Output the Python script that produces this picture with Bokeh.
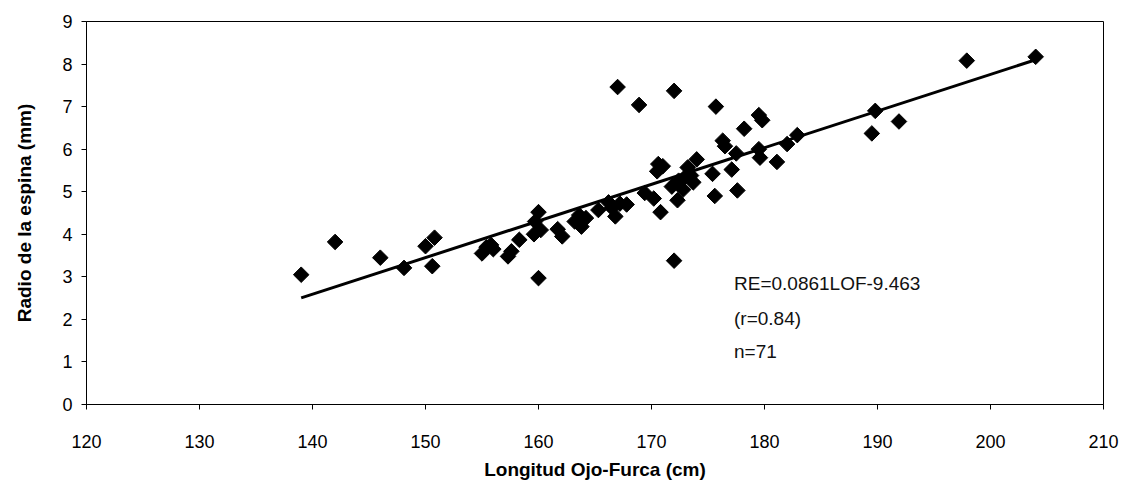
import math
from bokeh.plotting import figure
from bokeh.models import FixedTicker, Range1d, ColumnDataSource
from bokeh.core.properties import value
from bokeh.embed import file_html
from bokeh.resources import INLINE

# Longitud Ojo-Furca (cm)
lof = [139.0, 142.0, 146.0, 148.1, 150.0, 150.8, 150.6, 155.0, 155.4, 155.8,
       156.0, 157.3, 157.6, 158.3, 159.6, 159.7, 160.0, 160.2, 160.0, 161.7,
       162.1, 163.2, 163.6, 163.8, 164.2, 165.3, 166.2, 166.8, 167.2, 167.8,
       167.0, 168.9, 169.4, 170.2, 170.6, 170.5, 170.8, 172.0, 172.0, 172.3,
       171.8, 172.4, 172.8, 173.2, 173.5, 173.7, 174.0, 175.4, 175.7, 175.6,
       176.3, 176.5, 177.1, 177.5, 177.6, 178.2, 179.5, 179.8, 179.5, 179.6,
       181.1, 182.0, 182.9, 189.5, 189.8, 191.9, 197.9, 204.0, 166.5, 171.0,
       173.0]
# Radio de la espina (mm)
re_ = [3.05, 3.82, 3.45, 3.21, 3.72, 3.92, 3.25, 3.55, 3.70, 3.75,
       3.65, 3.48, 3.60, 3.87, 4.00, 4.30, 4.52, 4.10, 2.97, 4.12,
       3.95, 4.30, 4.45, 4.18, 4.38, 4.57, 4.75, 4.42, 4.72, 4.70,
       7.46, 7.04, 4.97, 4.84, 5.65, 5.48, 4.52, 7.37, 3.38, 4.80,
       5.12, 5.26, 5.05, 5.57, 5.38, 5.22, 5.76, 5.42, 7.00, 4.90,
       6.20, 6.07, 5.52, 5.90, 5.03, 6.48, 6.80, 6.68, 6.00, 5.80,
       5.70, 6.12, 6.33, 6.37, 6.90, 6.65, 8.08, 8.17, 4.62, 5.60,
       5.35]

slope = 0.0861
intercept = -9.463
fit_x = [139.0, 204.0]
fit_y = [slope * x + intercept for x in fit_x]

x_ticks = [120, 130, 140, 150, 160, 170, 180, 190, 200, 210]
y_ticks = [0, 1, 2, 3, 4, 5, 6, 7, 8, 9]

ann_lines = ["RE=0.0861LOF-9.463", "(r=0.84)", "n=71"]
ann_x = [177.3, 177.3, 177.3]
ann_y = [2.84, 2.02, 1.24]

FONT = "Liberation Sans"

p = figure(width=1127, height=501, output_backend="svg", toolbar_location=None,
           x_range=Range1d(120, 210), y_range=Range1d(0, 9),
           min_border_left=86, min_border_right=24, min_border_top=21,
           min_border_bottom=97)
p.background_fill_color = "white"
p.border_fill_color = "white"
p.outline_line_color = "black"
p.outline_line_width = 1
p.grid.visible = False

p.line(fit_x, fit_y, line_color="black", line_width=3)
src = ColumnDataSource(dict(x=lof, y=re_))
p.scatter("x", "y", source=src, marker="square", angle=math.pi / 4, size=11,
          fill_color="black", line_color="black")

p.text(x=ann_x, y=ann_y, text=ann_lines, text_font=value(FONT),
       text_font_size="19px", text_baseline="middle", text_align="left",
       text_color="#111111")

for ax in (p.xaxis[0], p.yaxis[0]):
    ax.axis_line_color = "black"
    ax.major_tick_line_color = "black"
    ax.minor_tick_line_color = None
    ax.major_tick_in = 0
    ax.major_tick_out = 5
    ax.major_label_text_font = FONT
    ax.major_label_text_font_size = "18px"
    ax.major_label_text_color = "black"
    ax.axis_label_text_font = FONT
    ax.axis_label_text_font_size = "19px"
    ax.axis_label_text_font_style = "bold"
    ax.axis_label_text_color = "black"

p.xaxis.ticker = FixedTicker(ticks=x_ticks)
p.yaxis.ticker = FixedTicker(ticks=y_ticks)
p.xaxis.axis_label = "Longitud Ojo-Furca (cm)"
p.yaxis.axis_label = "Radio de la espina (mm)"
p.xaxis.major_label_standoff = 25
p.xaxis.axis_label_standoff = 8
p.yaxis.major_label_standoff = 9
p.yaxis.axis_label_standoff = 24

open("out.html", "w").write(file_html(p, INLINE))
